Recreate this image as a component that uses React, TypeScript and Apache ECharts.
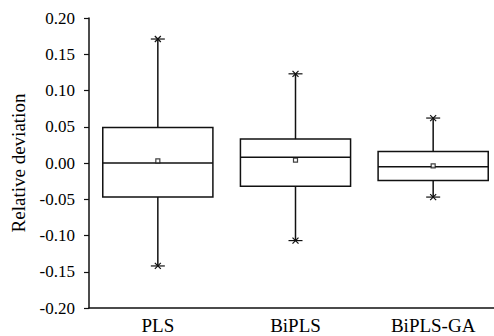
import React, { useEffect, useRef } from "react";
import * as echarts from "echarts";

const categories = ["PLS", "BiPLS", "BiPLS-GA"];
const lowerWhisker = [-0.142, -0.107, -0.047];
const q1 = [-0.047, -0.032, -0.024];
const median = [0.0, 0.008, -0.005];
const q3 = [0.049, 0.033, 0.016];
const upperWhisker = [0.171, 0.123, 0.062];
const means = [0.003, 0.004, -0.004];

const LINE = "#111";
const FONT = "'Liberation Serif', 'Times New Roman', serif";

export default function App() {
  const ref = useRef<HTMLDivElement>(null);
  useEffect(() => {
    if (!ref.current) return;
    const chart = echarts.init(ref.current, null, { renderer: "svg" });
    const boxData = categories.map((_, i) => [
      i,
      lowerWhisker[i],
      q1[i],
      median[i],
      q3[i],
      upperWhisker[i],
    ]);
    const meanData = categories.map((_, i) => [i, means[i]]);
    const renderItem = (params: any, api: any) => {
      const idx = api.value(0);
      const pMin = api.coord([idx, api.value(1)]);
      const pQ1 = api.coord([idx, api.value(2)]);
      const pMed = api.coord([idx, api.value(3)]);
      const pQ3 = api.coord([idx, api.value(4)]);
      const pMax = api.coord([idx, api.value(5)]);
      const band = api.size([1, 0])[0];
      const bw = band * 0.8;
      const cx = pMed[0];
      const style = { stroke: LINE, lineWidth: 1.5, fill: null };
      const line = (x1: number, y1: number, x2: number, y2: number, lw = 1.5) => ({
        type: "line",
        shape: { x1, y1, x2, y2 },
        style: { stroke: LINE, lineWidth: lw },
      });
      const cap = 7;
      const xm = 3;
      return {
        type: "group",
        children: [
          {
            type: "rect",
            shape: { x: cx - bw / 2, y: pQ3[1], width: bw, height: pQ1[1] - pQ3[1] },
            style,
          },
          line(cx - bw / 2, pMed[1], cx + bw / 2, pMed[1]),
          line(cx, pQ3[1], cx, pMax[1]),
          line(cx, pQ1[1], cx, pMin[1]),
          line(cx - cap, pMax[1], cx + cap, pMax[1], 1.2),
          line(cx - cap, pMin[1], cx + cap, pMin[1], 1.2),
          line(cx - xm, pMax[1] - xm, cx + xm, pMax[1] + xm, 1.2),
          line(cx - xm, pMax[1] + xm, cx + xm, pMax[1] - xm, 1.2),
          line(cx - xm, pMin[1] - xm, cx + xm, pMin[1] + xm, 1.2),
          line(cx - xm, pMin[1] + xm, cx + xm, pMin[1] - xm, 1.2),
        ],
      };
    };
    chart.setOption({
      animation: false,
      textStyle: { fontFamily: FONT, color: "#000" },
      grid: { left: 89, right: 0, top: 18, bottom: 28, containLabel: false },
      xAxis: {
        type: "category",
        data: categories,
        axisLine: { onZero: false, lineStyle: { color: LINE, width: 1.5 } },
        axisTick: { alignWithLabel: true, length: 5, lineStyle: { color: LINE, width: 1.2 } },
        axisLabel: { color: "#000", fontFamily: FONT, fontSize: 19, margin: 8 },
        splitLine: { show: false },
      },
      yAxis: {
        type: "value",
        min: -0.2,
        max: 0.2,
        interval: 0.05,
        name: "Relative deviation",
        nameLocation: "middle",
        nameGap: 61,
        nameTextStyle: { color: "#000", fontFamily: FONT, fontSize: 19 },
        axisLine: { show: true, lineStyle: { color: LINE, width: 1.5 } },
        axisTick: { show: true, length: 5, lineStyle: { color: LINE, width: 1.2 } },
        axisLabel: {
          color: "#000",
          fontFamily: FONT,
          fontSize: 17,
          margin: 14,
          formatter: (v: number) => v.toFixed(2),
        },
        splitLine: { show: false },
      },
      series: [
        {
          type: "custom",
          data: boxData,
          encode: { x: 0, y: [1, 2, 3, 4, 5] },
          renderItem,
          z: 2,
        },
        {
          type: "scatter",
          data: meanData,
          symbol: "rect",
          symbolSize: 4,
          itemStyle: { color: "#fff", borderColor: LINE, borderWidth: 1.2 },
          z: 3,
        },
      ],
    });
    return () => chart.dispose();
  }, []);
  return (
    <div style={{ position: "absolute", left: 0, top: 0, width: 494, height: 336, overflow: "hidden" }}>
      <div ref={ref} style={{ width: 502, height: 336 }} />
    </div>
  );
}
